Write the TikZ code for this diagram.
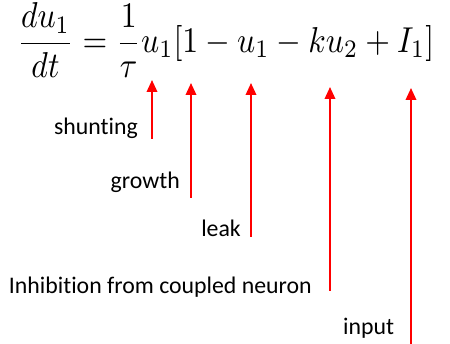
\documentclass[tikz,border=0pt]{standalone}
\usepackage{fontspec}
\setmainfont{Carlito}[Ligatures=NoCommon]
\usetikzlibrary{arrows.meta}
\tikzset{
  lbl/.style={font=\fontsize{23.8}{28}\selectfont, inner sep=0pt},
  ptr/.style={draw=red, line width=2pt, -{Triangle[width=10.5pt,length=12pt]}},
}
\begin{document}
\begin{tikzpicture}[x=1pt,y=-1pt]
\useasboundingbox (0,0) rectangle (450,344);
\node[inner sep=0pt, anchor=west] (eq) at (17,40)
  {\resizebox*{417pt}{74pt}{$\displaystyle \frac{du_1}{dt}=\frac{1}{\tau}u_1[1-u_1-ku_2+I_1]$}};
\node[lbl, anchor=base east] (shunt) at (138,135) {shunting};
\node[lbl, anchor=base east] (growth) at (180,189) {growth};
\node[lbl, anchor=base east] (leak) at (241,237) {leak};
\node[lbl, anchor=base east] (inhib) at (312,294) {Inhibition from coupled neuron};
\node[lbl, anchor=base west] (input) at (343,335) {input};
\coordinate (s0) at (152,139); \coordinate (s1) at (152,80);
\coordinate (g0) at (191,198); \coordinate (g1) at (191,83);
\coordinate (l0) at (251,237); \coordinate (l1) at (251,83);
\coordinate (i0) at (330,291); \coordinate (i1) at (330,87);
\coordinate (n0) at (411,344); \coordinate (n1) at (411,88);
\draw[ptr] (s0) -- (s1);
\draw[ptr] (g0) -- (g1);
\draw[ptr] (l0) -- (l1);
\draw[ptr] (i0) -- (i1);
\draw[ptr] (n0) -- (n1);
\end{tikzpicture}
\end{document}
